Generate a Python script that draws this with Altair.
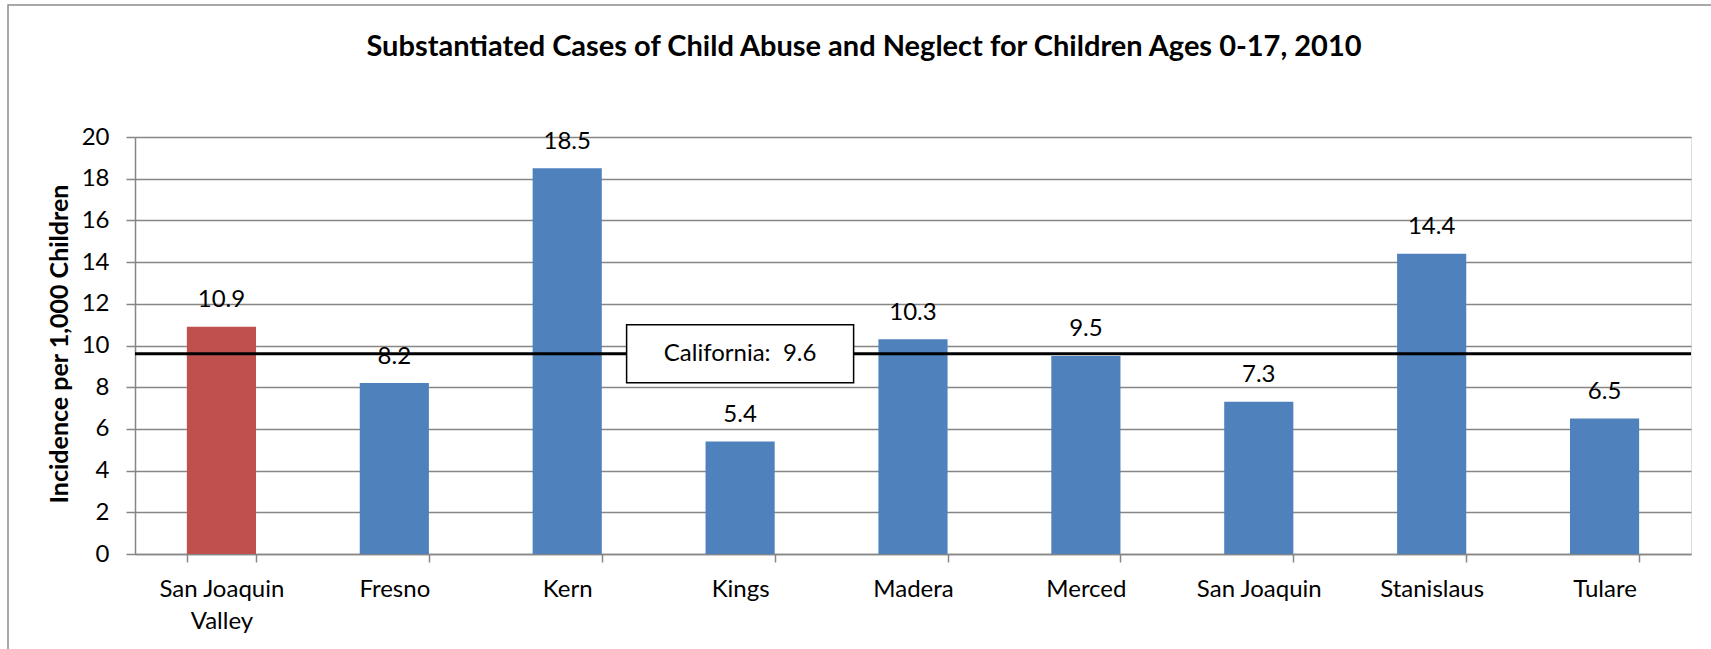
import altair as alt
import pandas as pd

# Incidence of substantiated child abuse / neglect cases per 1,000 children, 2010
regions = ["San Joaquin Valley", "Fresno", "Kern", "Kings", "Madera",
           "Merced", "San Joaquin", "Stanislaus", "Tulare"]
rates = [10.9, 8.2, 18.5, 5.4, 10.3, 9.5, 7.3, 14.4, 6.5]
kinds = ["Region", "County", "County", "County", "County",
         "County", "County", "County", "County"]

state_name = "California"
state_rate = 9.6
state_anchor = "Kings"  # category the state label box sits over

title_text = "Substantiated Cases of Child Abuse and Neglect for Children Ages 0-17, 2010"
y_title = "Incidence per 1,000 Children"
y_ticks = [0, 2, 4, 6, 8, 10, 12, 14, 16, 18, 20]

FONT = "Lato"
FS = 24
W, H = 1556, 417

bars_df = pd.DataFrame({"region": regions, "rate": rates, "kind": kinds})
state_df = pd.DataFrame({
    "region": [state_anchor],
    "rate": [state_rate],
    # non-breaking space keeps the double gap after the colon
    "label": [f"{state_name}: \u00a0{state_rate}"],
})
one_row = pd.DataFrame({"k": [0]})

x_enc = alt.X(
    "region:N",
    sort=regions,
    scale=alt.Scale(paddingInner=0.6, paddingOuter=0.3),
    axis=alt.Axis(
        title=None,
        labelAngle=0,
        labelFontSize=FS,
        labelFont=FONT,
        labelColor="#000000",
        labelPadding=15,
        labelLineHeight=32,
        labelExpr="datum.label == 'San Joaquin Valley' ? ['San Joaquin', 'Valley'] : datum.label",
        tickBand="extent",
        tickSize=8,
        tickColor="#868686",
        tickWidth=1.5,
        domainColor="#868686",
        domainWidth=1.5,
        grid=False,
    ),
)
y_enc = alt.Y(
    "rate:Q",
    scale=alt.Scale(domain=[0, 20], nice=False),
    axis=alt.Axis(
        title=y_title,
        titleFont=FONT,
        titleFontSize=25,
        titleFontWeight="bold",
        titleColor="#000000",
        titleAngle=-90,
        titleAlign="center",
        titleBaseline="middle",
        titleX=-76,
        titleY=H / 2 - 2,
        values=y_ticks,
        labelFontSize=FS,
        labelFont=FONT,
        labelColor="#000000",
        labelPadding=17,
        tickSize=9,
        tickColor="#868686",
        tickWidth=1.5,
        domainColor="#868686",
        domainWidth=1.5,
        gridColor="#868686",
        gridWidth=1.5,
    ),
)

# outer chart frame
frame = alt.Chart(one_row).mark_rect(
    fill=None, stroke="#8c8c8c", strokeWidth=1.5
).encode(
    x=alt.value(-127), y=alt.value(-132), x2=alt.value(W + 200), y2=alt.value(H + 300)
)

bars = alt.Chart(bars_df).mark_bar().encode(
    x=x_enc,
    y=y_enc,
    color=alt.Color(
        "kind:N",
        scale=alt.Scale(domain=["Region", "County"], range=["#C0504D", "#4F81BD"]),
        legend=None,
    ),
)

values = alt.Chart(bars_df).mark_text(
    font=FONT, fontSize=FS, color="#000000", baseline="alphabetic", dy=-19.5
).encode(
    x=alt.X("region:N", sort=regions),
    y="rate:Q",
    text=alt.Text("rate:Q", format=".1f"),
)

state_line = alt.Chart(state_df).mark_rule(color="#000000", strokeWidth=3).encode(
    y="rate:Q"
)

state_box = alt.Chart(state_df).mark_rect(
    width=227, height=58, fill="#ffffff", stroke="#000000", strokeWidth=1.5
).encode(
    x=alt.X("region:N", sort=regions),
    y="rate:Q",
)

state_text = alt.Chart(state_df).mark_text(
    font=FONT, fontSize=FS, color="#000000", baseline="middle", align="center"
).encode(
    x=alt.X("region:N", sort=regions),
    y="rate:Q",
    text="label:N",
)

chart_title = alt.Chart(one_row).mark_text(
    text=title_text, font=FONT, fontSize=29, fontWeight="bold",
    color="#000000", align="center", baseline="middle"
).encode(x=alt.value(729), y=alt.value(-90))

chart = alt.layer(
    frame, bars, values, state_line, state_box, state_text, chart_title
).properties(
    width=W,
    height=H,
    autosize="none",
    padding={"left": 135, "top": 137, "right": 20, "bottom": 95},
).configure_view(stroke=None).configure(background="#ffffff")

chart.save("out.html", embed_options={"renderer": "svg", "actions": False})
